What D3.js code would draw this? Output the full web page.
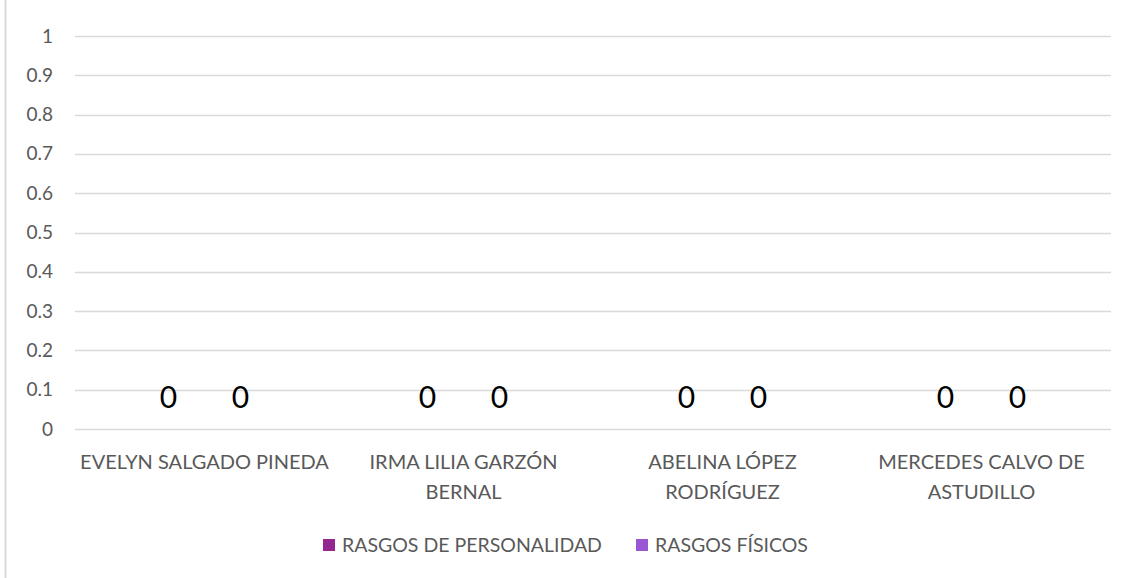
<!DOCTYPE html>
<html>
<head>
<meta charset="utf-8">
<script src="https://cdn.jsdelivr.net/npm/d3@7"></script>
<style>
  body { margin: 0; background: #fff; }
  svg { display: block; font-family: Lato, "Open Sans", sans-serif; }
</style>
</head>
<body>
<svg width="1121" height="578"></svg>
<script>
// chart data
var categories = [
    ["EVELYN SALGADO PINEDA"],
    ["IRMA LILIA GARZÓN", "BERNAL"],
    ["ABELINA LÓPEZ", "RODRÍGUEZ"],
    ["MERCEDES CALVO DE", "ASTUDILLO"]
];
var seriesNames = ["RASGOS DE PERSONALIDAD", "RASGOS FÍSICOS"];
var personalidad = [0, 0, 0, 0];
var fisicos = [0, 0, 0, 0];
var yTicks = [0, 0.1, 0.2, 0.3, 0.4, 0.5, 0.6, 0.7, 0.8, 0.9, 1];
var colors = ["#93278f", "#9b57d3"];

var svg = d3.select("svg"),
    width = +svg.attr("width"),
    height = +svg.attr("height");

// left border of the chart area
svg.append("line")
    .attr("x1", 5.5).attr("x2", 5.5)
    .attr("y1", 0).attr("y2", height)
    .attr("stroke", "#d9d9d9").attr("stroke-width", 2);

var plotLeft = 75, plotRight = 1111, plotTop = 36, plotBottom = 429;

var y = d3.scaleLinear().domain([0, 1]).range([plotBottom, plotTop]);
var catIdx = categories.map((c, i) => i);
var x0 = d3.scaleBand().domain(catIdx).range([plotLeft, plotRight]).padding(0);
var groupW = 144;
var x1 = d3.scaleBand().domain(d3.range(seriesNames.length)).range([0, groupW]);

// gridlines
svg.append("g")
    .selectAll("line")
    .data(yTicks)
    .enter().append("line")
    .attr("x1", plotLeft).attr("x2", plotRight)
    .attr("y1", d => Math.round(y(d)) + 0.5)
    .attr("y2", d => Math.round(y(d)) + 0.5)
    .attr("stroke", "#d9d9d9").attr("stroke-width", 1.3);

// y axis labels
var yAxis = d3.axisLeft(y).tickValues(yTicks).tickSize(0).tickPadding(0)
    .tickFormat(d => d3.format("")(+d.toFixed(1)));
var gy = svg.append("g").attr("transform", "translate(53,0)").call(yAxis);
gy.select(".domain").remove();
gy.selectAll("text")
    .attr("fill", "#595959")
    .style("font-size", "19px")
    .style("font-family", "Lato, 'Open Sans', sans-serif");

// bars and labels
var rows = catIdx.map(i => [personalidad[i], fisicos[i]]);
var groups = svg.append("g").selectAll("g")
    .data(rows)
    .enter().append("g")
    .attr("transform", (d, i) => "translate(" + (x0(i) + (x0.bandwidth() - groupW) / 2) + ",0)");

groups.selectAll("rect")
    .data(d => d)
    .enter().append("rect")
    .attr("x", (d, j) => x1(j) + 6)
    .attr("width", x1.bandwidth() - 12)
    .attr("y", d => y(d))
    .attr("height", d => plotBottom - y(d))
    .attr("fill", (d, j) => colors[j]);

groups.selectAll("text")
    .data(d => d)
    .enter().append("text")
    .attr("x", (d, j) => x1(j) + x1.bandwidth() / 2)
    .attr("y", d => y(d) - 21)
    .attr("text-anchor", "middle")
    .attr("fill", "#000")
    .style("font-size", "30px")
    .text(d => d);

// category labels
var cl = svg.append("g").selectAll("text")
    .data(categories)
    .enter().append("text")
    .attr("x", (d, i) => x0(i) + x0.bandwidth() / 2)
    .attr("y", 469)
    .attr("text-anchor", "middle")
    .attr("fill", "#595959")
    .style("font-size", "20px");
cl.selectAll("tspan")
    .data(d => d)
    .enter().append("tspan")
    .attr("x", function() { return d3.select(this.parentNode).attr("x"); })
    .attr("dy", (d, k) => k === 0 ? 0 : 30)
    .text(d => d);

// legend
var legendX = [323, 636];
var lg = svg.append("g").selectAll("g")
    .data(seriesNames)
    .enter().append("g")
    .attr("transform", (d, i) => "translate(" + legendX[i] + ",539)");
lg.append("rect")
    .attr("width", 12).attr("height", 12)
    .attr("fill", (d, i) => colors[i]);
lg.append("text")
    .attr("x", 19).attr("y", 13)
    .attr("fill", "#595959")
    .style("font-size", "19.5px")
    .text(d => d);
</script>
</body>
</html>
